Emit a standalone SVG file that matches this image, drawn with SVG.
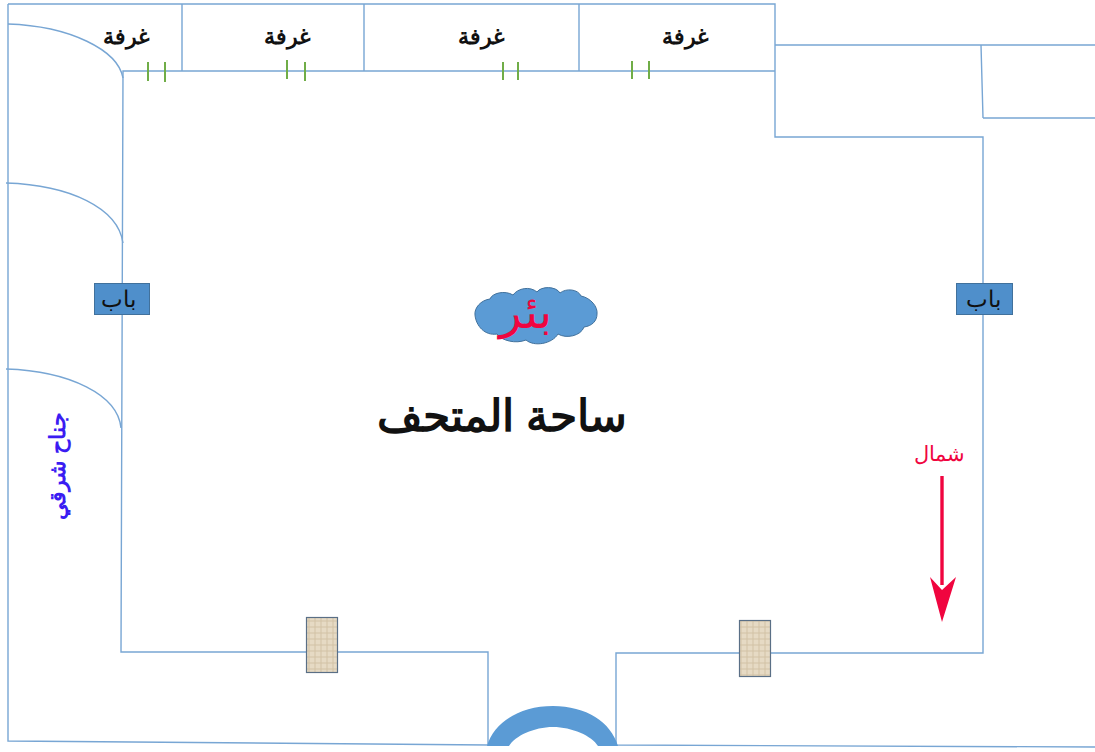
<svg xmlns="http://www.w3.org/2000/svg" width="1095" height="752" viewBox="0 0 1095 752">
<style>
.w{fill:none;stroke:#78a6d4;stroke-width:1.4}
.g{stroke:#70ad47;stroke-width:2;fill:none}
.t{font-family:"Liberation Sans","Noto Sans",sans-serif;text-anchor:middle;direction:rtl}
.room{font-size:22px;font-weight:bold;fill:#111}
.door{fill:#4f8fcb;stroke:#41719c;stroke-width:1}
.pil{stroke:#5a6f86;stroke-width:1.2;fill:url(#tex)}
</style>
<defs>
<pattern id="tex" width="6" height="6" patternUnits="userSpaceOnUse"><rect width="6" height="6" fill="#e6dac4"/><path d="M0 3H6M3 0V6" stroke="#d2c3a6" stroke-width="1"/></pattern>
</defs>
<rect width="1095" height="752" fill="#fff"/>
<g id="connectors">
<path class="w" d="M8 4H775V137H983V653H616V745L1095 747"/>
<path class="w" d="M8 4V741L488 745V652H121L123 71H775"/>
<path class="w" d="M182 4V71M364 4V71M579 4V71"/>
<path class="w" d="M775 45H1095M981 45L983 118M983 118H1095"/>
<path class="w" d="M8 24C70 26 118 50 123 78M6 183C70 185 118 208 123 243M6 369C70 371 118 395 121 428"/>
<path class="g" d="M148 62V81M165 62V82M287 60V79M305 62V81M503 62V80M518 62V80M632 61V79M649 61V79"/>
<path d="M942 476V585" stroke="#f0053f" stroke-width="3.400" fill="none"/>
<path d="M930 577L942 622L956 577L942 590Z" fill="#f0053f"/>
</g>
<g id="room1"><text class="t room" x="126" y="44">غرفة</text></g>
<g id="room2"><text class="t room" x="287" y="44">غرفة</text></g>
<g id="room3"><text class="t room" x="481" y="44">غرفة</text></g>
<g id="room4"><text class="t room" x="685" y="44">غرفة</text></g>
<g id="door-left"><rect class="door" x="94.500" y="283.500" width="55" height="31"/><text class="t" x="118" y="307" font-size="23" fill="#111">باب</text></g>
<g id="door-right"><rect class="door" x="956.500" y="283.500" width="56" height="31"/><text class="t" x="983" y="307" font-size="23" fill="#111">باب</text></g>
<g id="well">
<path d="M475 315C474 308 481 300 490 299C492 293 505 290 513 295C518 288 530 286 537 292C541 286 556 286 560 293C566 288 578 289 581 296C591 298 598 307 597 314C597 321 592 326 584 327C581 336 566 339 558 334C552 344 534 347 526 340C516 344 502 341 497 334C485 336 476 326 475 315Z" fill="#5b9bd5" stroke="#41719c" stroke-width="1"/>
<text class="t" x="525" y="328" font-size="47" fill="#f0053f">بئر</text>
</g>
<g id="court"><text class="t" x="502" y="431" font-size="44" font-weight="bold" fill="#111">ساحة المتحف</text></g>
<g id="north"><text class="t" x="939" y="461" font-size="21" fill="#f0053f">شمال</text></g>
<g id="east-wing"><text class="t" transform="translate(65 466) rotate(-90)" font-size="22" font-weight="bold" fill="#3b1cf2">جناح شرقي</text></g>
<g id="pillar-left"><rect class="pil" x="306.500" y="617.500" width="31" height="55"/></g>
<g id="pillar-right"><rect class="pil" x="739.500" y="620.500" width="31" height="56"/></g>
<g id="gate"><path d="M487 746C494 722 520 706 553 706C586 706 611 722 618 746H598C592 736 572 727 553 727C534 727 515 736 509 746Z" fill="#5b9bd5"/></g>
</svg>
